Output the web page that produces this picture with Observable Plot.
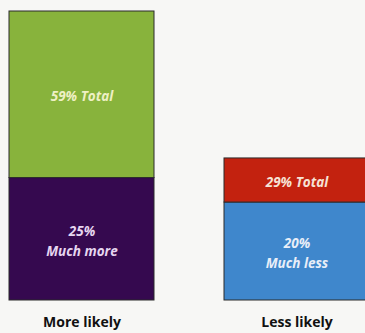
<!DOCTYPE html>
<html>
<head>
<meta charset="utf-8">
<script src="https://cdn.jsdelivr.net/npm/d3@7"></script>
<script src="https://cdn.jsdelivr.net/npm/@observablehq/plot@0.6"></script>
<style>
  html, body { margin: 0; padding: 0; background: #f7f7f5; }
  #chart svg { display: block; }
</style>
</head>
<body>
<div id="chart"></div>
<script>
const categories = ["More likely", "Less likely"];
const muchValues = [25, 20];
const totalValues = [59, 29];
const muchLabels = ["Much more", "Much less"];
const totalLabels = ["59% Total", "29% Total"];
const muchColors = ["#35094f", "#3f87cc"];
const restColors = ["#88b33c", "#c3220f"];
const muchTextColors = ["#e6d6f0", "#e8eef8"];
const restTextColors = ["#eef0c4", "#f6e2d6"];

const segments = [];
categories.forEach((c, i) => {
  segments.push({cat: c, y1: 0, y2: muchValues[i], fill: muchColors[i], tc: muchTextColors[i],
                 label: muchValues[i] + "%\n" + muchLabels[i]});
  segments.push({cat: c, y1: muchValues[i], y2: totalValues[i], fill: restColors[i], tc: restTextColors[i],
                 label: totalLabels[i]});
});

const chart = Plot.plot({
  width: 365,
  height: 333,
  marginTop: 11,
  marginBottom: 33,
  marginLeft: 9,
  marginRight: 0,
  style: {background: "#f7f7f5", fontFamily: "'Open Sans', sans-serif"},
  x: {domain: categories, range: [9, 369], paddingInner: 0.326, paddingOuter: 0},
  y: {domain: [0, 59], axis: null},
  marks: [
    Plot.barY(segments, {x: "cat", y1: "y1", y2: "y2", fill: d => d.fill, stroke: "#2b2b2b", strokeWidth: 1, inset: 0}),
    Plot.text(segments, {x: "cat", y: d => (d.y1 + d.y2) / 2, text: "label", fill: d => d.tc,
                         fontSize: 13.5, fontWeight: "bold", fontStyle: "italic", lineHeight: 1.5}),
    Plot.axisX({tickSize: 0, tickPadding: 17, fontSize: 14, fontWeight: "bold", label: null, fill: "#111"})
  ],
  color: {type: "identity"}
});
document.getElementById("chart").appendChild(chart);
</script>
</body>
</html>
